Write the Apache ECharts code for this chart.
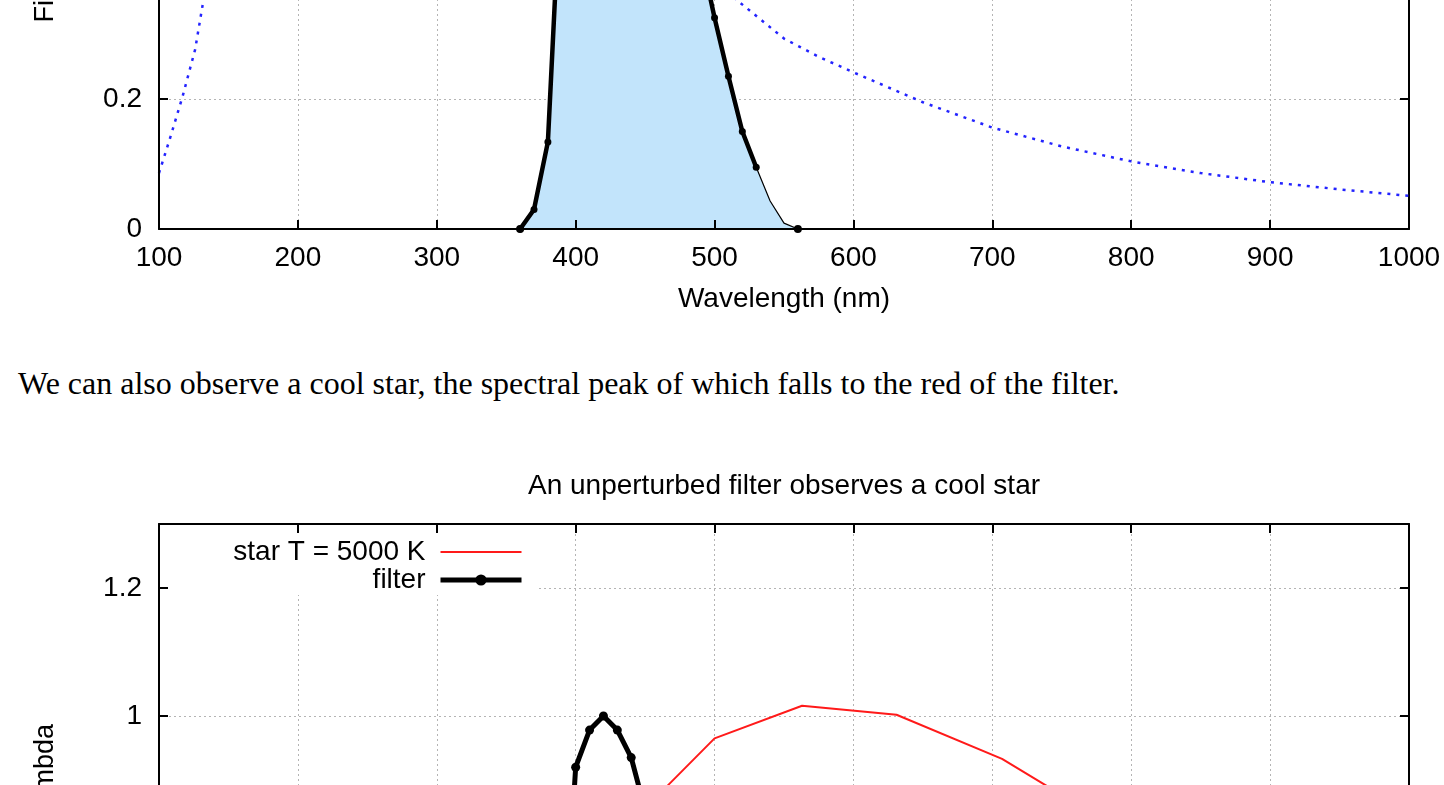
<!DOCTYPE html>
<html lang="en">
<head>
<meta charset="UTF-8">
<title>Filter and star spectra</title>
<style>
    html, body {
        margin: 0;
        padding: 0;
        width: 1444px;
        height: 785px;
        overflow: hidden;
        background: #fff;
    }

    #topChart {
        position: absolute;
        left: 0;
        top: -660px;
        width: 1444px;
        height: 980px;
    }

    #bottomChart {
        position: absolute;
        left: 0;
        top: 440px;
        width: 1444px;
        height: 1000px;
    }

    .para {
        position: absolute;
        left: 18px;
        top: 365px;
        margin: 0;
        font: 32px/36px 'Liberation Serif', 'Times New Roman', serif;
        color: #000;
        white-space: nowrap;
    }
</style>
</head>
<body>
<div id="topChart"></div>
<p class="para">We can also observe a cool star, the spectral peak of which falls to the red of the filter.</p>
<div id="bottomChart"></div>
<script src="https://cdn.jsdelivr.net/npm/echarts@6/dist/echarts.min.js"></script>
<script>
    // filter transmission (nm)
    const filterWl = [360, 370, 380, 390, 400, 410, 420, 430, 440, 450, 460, 470, 480, 490, 500, 510, 520, 530, 540, 550, 560];
    const filterT = [0, 0.030, 0.134, 0.567, 0.920, 0.978, 1.000, 0.978, 0.935, 0.853, 0.740, 0.640, 0.536, 0.424, 0.325, 0.235, 0.150, 0.095, 0.043, 0.009, 0];

    // hot star, top plot (dotted blue)
    const hotWl = [100, 108, 117, 126, 132, 140, 150, 175, 200, 240, 300, 350, 400, 450, 500, 515, 550, 575, 600, 650, 700, 750, 800, 850, 900, 950, 1000];
    const hotFlux = [0.086, 0.14, 0.204, 0.276, 0.352, 0.43, 0.53, 0.76, 0.92, 1.0, 0.9, 0.75, 0.6, 0.48, 0.375, 0.354, 0.293, 0.265, 0.241, 0.195, 0.156, 0.127, 0.104, 0.086, 0.072, 0.061, 0.051];

    // cool star T = 5000 K, bottom plot
    const coolWl = [100, 159, 200, 224, 252, 282, 316, 355, 398, 446, 500, 563, 631, 707, 793, 890, 998];
    const coolFlux = [0, 0.001, 0.016, 0.044, 0.102, 0.2, 0.33, 0.505, 0.69, 0.847, 0.965, 1.016, 1.002, 0.933, 0.82, 0.7, 0.568];

    const xMin = 100, xMax = 1000, xStep = 100;
    const yMin = 0, yMax = 1.3, yStep = 0.2;

    const font = 'Liberation Sans';
    const yTitle = 'Filter transmission, scaled F lambda';

    function pairs(xs, ys) {
        return xs.map(function (x, i) { return [x, ys[i]]; });
    }

    // gnuplot style box: ticks inside on all four sides, dotted grid
    function frame(xName) {
        let line = {show: true, onZero: false, lineStyle: {color: '#000', width: 2}};
        let tick = {show: true, inside: true, length: 9, lineStyle: {color: '#000', width: 2}};
        let grid = {show: true, lineStyle: {color: '#b4b4b4', width: 1, type: [2, 3]}};
        let label = {color: '#000', fontSize: 28, fontFamily: font};
        return {
            xAxis: [
                {
                    type: 'value', min: xMin, max: xMax, interval: xStep, position: 'bottom', z: 10,
                    axisLine: line, axisTick: tick, splitLine: {show: false},
                    axisLabel: Object.assign({margin: 15, formatter: function (v) { return String(v); }}, label),
                    name: xName, nameLocation: 'middle', nameGap: 56, nameMoveOverlap: false,
                    nameTextStyle: label
                },
                {
                    type: 'value', min: xMin, max: xMax, interval: xStep, position: 'top', z: 1,
                    axisLine: line, axisTick: tick, splitLine: grid, axisLabel: {show: false}
                }
            ],
            yAxis: [
                {
                    type: 'value', min: yMin, max: yMax, interval: yStep, position: 'left', z: 10,
                    axisLine: line, axisTick: tick, splitLine: {show: false},
                    axisLabel: Object.assign({margin: 17, showMaxLabel: false}, label),
                    name: yTitle, nameLocation: 'middle', nameGap: 100, nameRotate: 90, nameMoveOverlap: false,
                    nameTextStyle: {color: '#000', fontSize: 27, fontFamily: font}
                },
                {
                    type: 'value', min: yMin, max: yMax, interval: yStep, position: 'right', z: 1,
                    axisLine: line, axisTick: tick, splitLine: grid, axisLabel: {show: false}
                }
            ]
        };
    }

    //  top plot: filter filled, hot star dotted
    let topChart = echarts.init(document.getElementById('topChart'));
    let topFrame = frame('Wavelength (nm)');
    let fillData = filterWl.map(function (w, i) {
        let end = i === 0 || i === filterWl.length - 1;
        return {value: [w, filterT[i]], symbol: end ? 'circle' : 'none'};
    });
    topChart.setOption({
        animation: false,
        grid: {left: 159, right: 35, top: 44, bottom: 91, outerBoundsMode: 'none'},
        xAxis: topFrame.xAxis,
        yAxis: topFrame.yAxis,
        series: [
            {
                type: 'line', data: fillData, z: 2,
                symbol: 'circle', symbolSize: 8,
                itemStyle: {color: '#000'},
                lineStyle: {color: '#000', width: 1.2},
                areaStyle: {color: '#c2e4fb', opacity: 1}
            },
            {
                type: 'line', data: pairs(filterWl, filterT).slice(0, 18), z: 3,
                symbol: 'circle', symbolSize: 7,
                itemStyle: {color: '#000'},
                lineStyle: {color: '#000', width: 4.5}
            },
            {
                type: 'line', data: pairs(hotWl, hotFlux), z: 3,
                symbol: 'none',
                lineStyle: {color: '#2323ff', width: 2.5, type: [3, 6]}
            }
        ]
    });

    //  bottom plot: unperturbed filter and cool star
    let bottomChart = echarts.init(document.getElementById('bottomChart'));
    let bottomFrame = frame('');
    bottomChart.setOption({
        animation: false,
        title: {
            text: 'An unperturbed filter observes a cool star',
            left: 784, top: 31, padding: 0, textAlign: 'center',
            textStyle: {color: '#000', fontWeight: 'normal', fontSize: 28, fontFamily: font, lineHeight: 30}
        },
        legend: {
            orient: 'vertical', right: 905, top: 94, align: 'right',
            itemWidth: 81, itemHeight: 14, itemGap: 0,
            padding: [4, 15, 1, 65],
            backgroundColor: '#fff',
            selectedMode: false,
            textStyle: {color: '#000', fontSize: 28, fontFamily: font, lineHeight: 28, padding: [0, 10, 0, 0]},
            data: [
                {name: 'star T = 5000 K', itemStyle: {opacity: 0}, lineStyle: {color: '#ff1a1a', width: 2}},
                {name: 'filter', lineStyle: {color: '#000', width: 5}}
            ]
        },
        grid: {left: 159, right: 35, top: 84, bottom: 84, outerBoundsMode: 'none'},
        xAxis: bottomFrame.xAxis,
        yAxis: bottomFrame.yAxis,
        series: [
            {
                name: 'star T = 5000 K', type: 'line', data: pairs(coolWl, coolFlux), z: 3,
                symbol: 'none',
                lineStyle: {color: '#ff1a1a', width: 2}
            },
            {
                name: 'filter', type: 'line', data: pairs(filterWl, filterT), z: 4,
                symbol: 'circle', symbolSize: 9,
                itemStyle: {color: '#000'},
                lineStyle: {color: '#000', width: 5}
            }
        ]
    });
</script>
</body>
</html>
